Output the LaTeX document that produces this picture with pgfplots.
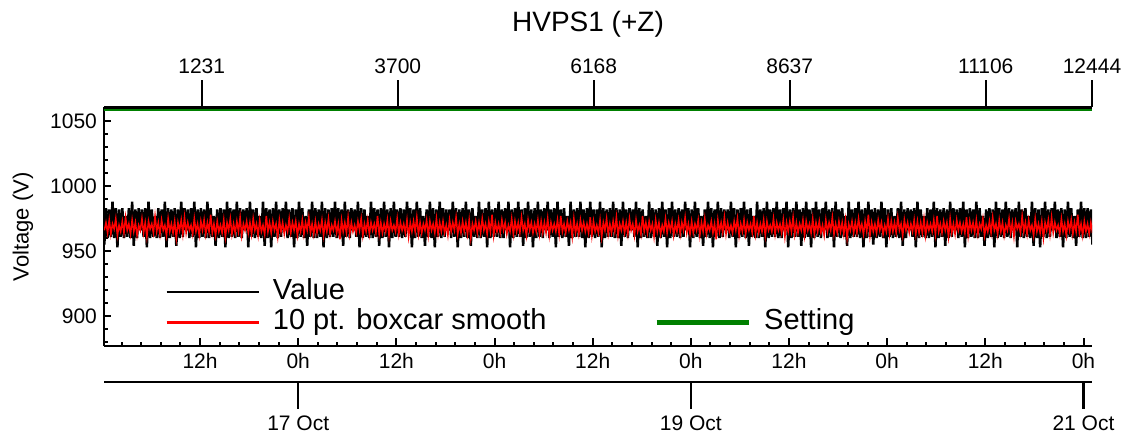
\documentclass[border=0pt]{standalone}
\usepackage{fontspec}
\setmainfont{Liberation Sans}
\usepackage{graphicx}
\usepackage{pgfplots}
\usepackage{pgfplotstable}
\pgfplotsset{compat=1.18}
\definecolor{setgreen}{RGB}{0,128,0}

% hours since 16 Oct 0h, raw value (v) and 10 pt boxcar smooth (s)
\pgfplotstableread[row sep=\\]{
x v s\\
0.3 955 966\\ 0.5 983 972\\ 0.7 960 964\\ 0.9 982 974\\ 1.1 961 963\\ 1.3 988 971\\ 1.5 960 967\\ 1.7 983 975\\ 1.9 953 962\\ 2.1 982 970\\
2.3 961 965\\ 2.5 983 973\\ 2.7 960 964\\ 2.9 977 976\\ 3.1 961 966\\ 3.3 983 971\\ 3.5 960 963\\ 3.7 988 974\\ 3.9 954 965\\ 4.1 982 972\\
4.3 960 962\\ 4.5 983 970\\ 4.7 966 966\\ 4.9 982 975\\ 5.1 961 964\\ 5.3 983 972\\ 5.5 953 961\\ 5.7 988 973\\ 5.9 960 967\\ 6.1 982 971\\
6.3 961 964\\ 6.5 977 977\\ 6.7 960 965\\ 6.9 983 972\\ 7.1 960 963\\ 7.3 982 974\\ 7.5 961 966\\ 7.7 988 970\\ 7.9 953 962\\ 8.1 983 975\\
8.3 960 965\\ 8.5 982 971\\ 8.7 961 964\\ 8.9 983 973\\ 9.1 954 960\\ 9.3 982 972\\ 9.5 960 966\\ 9.7 988 974\\ 9.9 961 963\\ 10.1 983 976\\
10.3 966 964\\ 10.5 982 972\\ 10.7 960 966\\ 10.9 983 970\\ 11.1 961 963\\ 11.3 988 975\\ 11.5 953 965\\ 11.7 982 971\\ 11.9 960 962\\ 12.1 983 973\\
12.3 961 966\\ 12.5 982 974\\ 12.7 960 963\\ 12.9 988 972\\ 13.1 960 965\\ 13.3 983 978\\ 13.5 961 964\\ 13.7 977 971\\ 13.9 954 962\\ 14.1 982 973\\
14.3 960 965\\ 14.5 983 970\\ 14.7 961 964\\ 14.9 982 974\\ 15.1 953 961\\ 15.3 988 972\\ 15.5 960 966\\ 15.7 983 975\\ 15.9 961 963\\ 16.1 982 971\\
16.3 960 964\\ 16.5 988 973\\ 16.7 961 965\\ 16.9 983 976\\ 17.1 960 962\\ 17.3 982 971\\ 17.5 966 966\\ 17.7 983 973\\ 17.9 953 964\\ 18.1 988 972\\
18.3 961 963\\ 18.5 982 975\\ 18.7 960 966\\ 18.9 983 971\\ 19.1 961 962\\ 19.3 977 974\\ 19.5 960 965\\ 19.7 988 970\\ 19.9 954 963\\ 20.1 983 977\\
20.3 960 965\\ 20.5 982 972\\ 20.7 953 964\\ 20.9 983 973\\ 21.1 961 966\\ 21.3 988 971\\ 21.5 960 961\\ 21.7 982 974\\ 21.9 961 965\\ 22.1 983 972\\
22.3 966 963\\ 22.5 988 970\\ 22.7 960 965\\ 22.9 982 975\\ 23.1 961 964\\ 23.3 983 972\\ 23.5 953 966\\ 23.7 982 973\\ 23.9 960 962\\ 24.1 988 971\\
24.3 961 965\\ 24.5 983 974\\ 24.7 960 963\\ 24.9 977 972\\ 25.1 954 966\\ 25.3 982 976\\ 25.5 961 964\\ 25.7 988 971\\ 25.9 960 963\\ 26.1 983 973\\
26.3 960 964\\ 26.5 982 971\\ 26.7 961 966\\ 26.9 988 974\\ 27.1 953 962\\ 27.3 983 972\\ 27.5 960 965\\ 27.7 982 975\\ 27.9 961 963\\ 28.1 983 970\\
28.3 961 966\\ 28.5 988 973\\ 28.7 960 964\\ 28.9 983 971\\ 29.1 960 959\\ 29.3 982 974\\ 29.5 954 965\\ 29.7 988 972\\ 29.9 961 964\\ 30.1 982 976\\
30.3 960 963\\ 30.5 983 972\\ 30.7 966 965\\ 30.9 982 970\\ 31.1 961 964\\ 31.3 988 973\\ 31.5 953 966\\ 31.7 983 975\\ 31.9 960 962\\ 32.1 982 971\\
32.3 961 965\\ 32.5 977 974\\ 32.7 960 963\\ 32.9 988 972\\ 33.1 960 966\\ 33.3 983 971\\ 33.5 961 964\\ 33.7 982 977\\ 33.9 954 963\\ 34.1 983 972\\
34.3 960 964\\ 34.5 988 971\\ 34.7 961 965\\ 34.9 982 974\\ 35.1 953 962\\ 35.3 983 973\\ 35.5 960 966\\ 35.7 988 970\\ 35.9 961 965\\ 36.1 982 975\\
36.3 961 963\\ 36.5 983 972\\ 36.7 960 966\\ 36.9 982 971\\ 37.1 961 964\\ 37.3 988 974\\ 37.5 966 961\\ 37.7 983 972\\ 37.9 953 965\\ 38.1 982 973\\
38.3 960 965\\ 38.5 988 976\\ 38.7 961 963\\ 38.9 983 972\\ 39.1 960 964\\ 39.3 977 971\\ 39.5 954 966\\ 39.7 982 974\\ 39.9 961 962\\ 40.1 988 973\\
40.3 960 966\\ 40.5 983 971\\ 40.7 953 964\\ 40.9 982 975\\ 41.1 961 963\\ 41.3 988 972\\ 41.5 960 965\\ 41.7 983 973\\ 41.9 961 964\\ 42.1 982 970\\
42.3 966 962\\ 42.5 982 974\\ 42.7 960 965\\ 42.9 988 972\\ 43.1 961 966\\ 43.3 983 976\\ 43.5 953 963\\ 43.7 982 971\\ 43.9 960 964\\ 44.1 983 973\\
44.3 961 965\\ 44.5 988 972\\ 44.7 960 963\\ 44.9 982 974\\ 45.1 954 960\\ 45.3 983 971\\ 45.5 961 966\\ 45.7 977 973\\ 45.9 960 964\\ 46.1 988 972\\
46.3 960 964\\ 46.5 982 975\\ 46.7 961 966\\ 46.9 983 971\\ 47.1 953 963\\ 47.3 988 973\\ 47.5 960 965\\ 47.7 982 978\\ 47.9 961 962\\ 48.1 983 972\\
48.3 961 965\\ 48.5 988 971\\ 48.7 960 964\\ 48.9 982 974\\ 49.1 960 966\\ 49.3 983 972\\ 49.5 966 963\\ 49.7 988 970\\ 49.9 953 965\\ 50.1 982 975\\
50.3 960 963\\ 50.5 983 973\\ 50.7 961 965\\ 50.9 988 972\\ 51.1 961 964\\ 51.3 982 976\\ 51.5 954 966\\ 51.7 983 971\\ 51.9 960 962\\ 52.1 988 974\\
52.3 961 966\\ 52.5 982 972\\ 52.7 953 964\\ 52.9 983 971\\ 53.1 960 965\\ 53.3 988 974\\ 53.5 961 963\\ 53.7 982 973\\ 53.9 960 964\\ 54.1 983 972\\
54.3 966 964\\ 54.5 988 975\\ 54.7 960 962\\ 54.9 982 972\\ 55.1 961 966\\ 55.3 983 971\\ 55.5 953 965\\ 55.7 988 974\\ 55.9 961 963\\ 56.1 982 977\\
56.3 960 965\\ 56.5 983 971\\ 56.7 961 964\\ 56.9 977 973\\ 57.1 954 966\\ 57.3 988 972\\ 57.5 960 961\\ 57.7 982 975\\ 57.9 961 964\\ 58.1 983 971\\
58.3 961 963\\ 58.5 988 974\\ 58.7 960 966\\ 58.9 982 972\\ 59.1 953 965\\ 59.3 983 971\\ 59.5 960 964\\ 59.7 988 976\\ 59.9 961 962\\ 60.1 982 973\\
60.3 960 965\\ 60.5 982 970\\ 60.7 961 964\\ 60.9 988 974\\ 61.1 953 961\\ 61.3 983 972\\ 61.5 960 966\\ 61.7 982 975\\ 61.9 961 963\\ 62.1 983 971\\
62.3 961 964\\ 62.5 988 973\\ 62.7 960 965\\ 62.9 983 976\\ 63.1 960 962\\ 63.3 982 971\\ 63.5 954 966\\ 63.7 988 973\\ 63.9 961 964\\ 64.1 982 972\\
64.3 960 963\\ 64.5 983 975\\ 64.7 966 966\\ 64.9 982 971\\ 65.1 961 962\\ 65.3 988 974\\ 65.5 953 965\\ 65.7 983 970\\ 65.9 960 963\\ 66.1 982 977\\
66.3 961 965\\ 66.5 977 972\\ 66.7 960 964\\ 66.9 988 973\\ 67.1 960 966\\ 67.3 983 971\\ 67.5 961 961\\ 67.7 982 974\\ 67.9 954 965\\ 68.1 983 972\\
68.3 960 963\\ 68.5 988 970\\ 68.7 961 965\\ 68.9 982 975\\ 69.1 953 964\\ 69.3 983 972\\ 69.5 960 966\\ 69.7 988 973\\ 69.9 961 962\\ 70.1 982 971\\
70.3 961 965\\ 70.5 983 974\\ 70.7 960 963\\ 70.9 982 972\\ 71.1 961 966\\ 71.3 988 976\\ 71.5 966 964\\ 71.7 983 971\\ 71.9 953 963\\ 72.1 982 973\\
72.3 960 964\\ 72.5 988 971\\ 72.7 961 966\\ 72.9 983 974\\ 73.1 960 962\\ 73.3 977 972\\ 73.5 954 965\\ 73.7 982 975\\ 73.9 961 963\\ 74.1 988 970\\
74.3 960 966\\ 74.5 983 973\\ 74.7 953 964\\ 74.9 982 971\\ 75.1 961 959\\ 75.3 988 974\\ 75.5 960 965\\ 75.7 983 972\\ 75.9 961 964\\ 76.1 982 976\\
76.3 966 963\\ 76.5 982 972\\ 76.7 960 965\\ 76.9 988 970\\ 77.1 961 964\\ 77.3 983 973\\ 77.5 953 966\\ 77.7 982 975\\ 77.9 960 962\\ 78.1 983 971\\
78.3 961 965\\ 78.5 988 974\\ 78.7 960 963\\ 78.9 982 972\\ 79.1 954 966\\ 79.3 983 971\\ 79.5 961 964\\ 79.7 977 977\\ 79.9 960 963\\ 80.1 988 972\\
80.3 960 964\\ 80.5 982 971\\ 80.7 961 965\\ 80.9 983 974\\ 81.1 953 962\\ 81.3 988 973\\ 81.5 960 966\\ 81.7 982 970\\ 81.9 961 965\\ 82.1 983 975\\
82.3 961 963\\ 82.5 988 972\\ 82.7 960 966\\ 82.9 982 971\\ 83.1 960 964\\ 83.3 983 974\\ 83.5 966 961\\ 83.7 988 972\\ 83.9 953 965\\ 84.1 982 973\\
84.3 960 965\\ 84.5 983 976\\ 84.7 961 963\\ 84.9 988 972\\ 85.1 961 964\\ 85.3 982 971\\ 85.5 954 966\\ 85.7 983 974\\ 85.9 960 962\\ 86.1 988 973\\
86.3 961 966\\ 86.5 982 971\\ 86.7 953 964\\ 86.9 983 975\\ 87.1 960 963\\ 87.3 988 972\\ 87.5 961 965\\ 87.7 982 973\\ 87.9 960 964\\ 88.1 983 970\\
88.3 966 962\\ 88.5 988 974\\ 88.7 960 965\\ 88.9 982 972\\ 89.1 961 966\\ 89.3 983 976\\ 89.5 953 963\\ 89.7 988 971\\ 89.9 961 964\\ 90.1 982 973\\
90.3 960 965\\ 90.5 983 972\\ 90.7 961 963\\ 90.9 977 974\\ 91.1 954 960\\ 91.3 988 971\\ 91.5 960 966\\ 91.7 982 973\\ 91.9 961 964\\ 92.1 983 972\\
92.3 961 964\\ 92.5 988 975\\ 92.7 960 966\\ 92.9 982 971\\ 93.1 953 963\\ 93.3 983 973\\ 93.5 960 965\\ 93.7 988 978\\ 93.9 961 962\\ 94.1 982 972\\
94.3 955 965\\ 94.5 983 971\\ 94.7 960 964\\ 94.9 982 974\\ 95.1 961 966\\ 95.3 988 972\\ 95.5 960 963\\ 95.7 983 970\\ 95.9 953 965\\ 96.1 982 975\\
96.3 961 963\\ 96.5 983 973\\ 96.7 960 965\\ 96.9 977 972\\ 97.1 961 964\\ 97.3 983 976\\ 97.5 960 966\\ 97.7 988 971\\ 97.9 954 962\\ 98.1 982 974\\
98.3 960 966\\ 98.5 983 972\\ 98.7 966 964\\ 98.9 982 971\\ 99.1 961 965\\ 99.3 983 974\\ 99.5 953 963\\ 99.7 988 973\\ 99.9 960 964\\ 100.1 982 972\\
100.3 961 964\\ 100.5 977 975\\ 100.7 960 962\\ 100.9 983 972\\ 101.1 960 966\\ 101.3 982 971\\ 101.5 961 965\\ 101.7 988 974\\ 101.9 953 963\\ 102.1 983 977\\
102.3 960 965\\ 102.5 982 971\\ 102.7 961 964\\ 102.9 983 973\\ 103.1 954 966\\ 103.3 982 972\\ 103.5 960 961\\ 103.7 988 975\\ 103.9 961 964\\ 104.1 983 971\\
104.3 966 963\\ 104.5 982 974\\ 104.7 960 966\\ 104.9 983 972\\ 105.1 961 965\\ 105.3 988 971\\ 105.5 953 964\\ 105.7 982 976\\ 105.9 960 962\\ 106.1 983 973\\
106.3 961 966\\ 106.5 982 972\\ 106.7 960 964\\ 106.9 988 974\\ 107.1 960 963\\ 107.3 983 971\\ 107.5 961 967\\ 107.7 977 975\\ 107.9 954 962\\ 108.1 982 970\\
108.3 960 965\\ 108.5 983 973\\ 108.7 961 964\\ 108.9 982 976\\ 109.1 953 966\\ 109.3 988 971\\ 109.5 960 963\\ 109.7 983 974\\ 109.9 961 965\\ 110.1 982 972\\
110.3 960 962\\ 110.5 988 970\\ 110.7 961 966\\ 110.9 983 975\\ 111.1 960 964\\ 111.3 982 972\\ 111.5 966 961\\ 111.7 983 973\\ 111.9 953 967\\ 112.1 988 971\\
112.3 961 964\\ 112.5 982 977\\ 112.7 960 965\\ 112.9 983 972\\ 113.1 961 963\\ 113.3 977 974\\ 113.5 960 966\\ 113.7 988 970\\ 113.9 954 962\\ 114.1 983 975\\
114.3 960 965\\ 114.5 982 971\\ 114.7 953 964\\ 114.9 983 973\\ 115.1 961 960\\ 115.3 988 972\\ 115.5 960 966\\ 115.7 982 974\\ 115.9 961 963\\ 116.1 983 976\\
116.3 966 964\\ 116.5 988 972\\ 116.7 960 966\\ 116.9 982 970\\ 117.1 961 963\\ 117.3 983 975\\ 117.5 953 965\\ 117.7 982 971\\ 117.9 960 962\\ 118.1 988 973\\
118.3 961 966\\ 118.5 983 974\\ 118.7 960 963\\ 118.9 977 972\\ 119.1 954 965\\ 119.3 982 978\\ 119.5 961 964\\ 119.7 988 971\\ 119.9 960 962\\ 120.1 983 973\\
120.3 960 965\\ 120.5 983 971\\ 120.7 961 963\\ 120.9 982 972\\ 121.1 955 964\\
}\hvps

\begin{document}
\begin{tikzpicture}
\useasboundingbox (0,0) rectangle (565pt,221.5pt);

% date axis underneath
\begin{axis}[at={(52pt,30.5pt)}, anchor=south west, scale only axis,
  width=494pt, height=10pt,
  xmin=0.26, xmax=121.04, ymin=0, ymax=1,
  axis x line*=bottom, hide y axis,
  axis line style={-, line width=1.4pt},
  tick align=outside, major tick length=13.5pt,
  every tick/.style={black, line width=1.1pt},
  xtick={24,72,120}, xticklabels={17 Oct,19 Oct,21 Oct},
  ticklabel style={font=\fontsize{10.5}{12}\selectfont}]
\addplot[draw=none] coordinates {(0.26,0) (121.04,1)};
\end{axis}

% main axis
\begin{axis}[at={(52pt,48.5pt)}, anchor=south west, scale only axis,
  width=494pt, height=119.25pt,
  xmin=0.26, xmax=121.04, ymin=877, ymax=1060.5,
  axis x line*=bottom, axis y line*=left,
  axis line style={-, line width=1.4pt},
  tick align=inside,
  major tick length=3.75pt, minor tick length=1.9pt,
  every tick/.style={black, line width=1pt},
  xtick={12,24,...,120},
  xticklabels={12h,0h,12h,0h,12h,0h,12h,0h,12h,0h},
  minor xtick={0,2.4,...,120},
  ytick={900,950,1000,1050}, yticklabels={900,950,1000,1050},
  minor ytick={880,890,...,1050},
  ticklabel style={font=\fontsize{10.5}{12}\selectfont},
  ylabel={Voltage (V)},
  ylabel style={font=\fontsize{11}{13}\selectfont, at={(axis description cs:-0.082,0.5)}, anchor=center},
  legend columns=2,
  legend cell align=left,
  legend image code/.code={\draw[#1] (0pt,0pt) -- (46pt,0pt);},
  legend style={at={(rel axis cs:0.0617,0.042)}, anchor=south west,
    draw=none, fill=none, inner sep=0pt, column sep=6.5pt, row sep=2.2pt,
    font=\fontsize{14.5}{16}\selectfont,
    nodes={inner sep=0pt, text height=10pt, text depth=3pt}}]
\addlegendimage{black, line width=1.3pt}
\addlegendentry{Value}
\addlegendimage{empty legend}
\addlegendentry{}
\addlegendimage{red, line width=1.3pt}
\addlegendentry{\makebox[184pt][l]{10 pt. boxcar smooth}}
\addlegendimage{setgreen, line width=2.6pt}
\addlegendentry{Setting}

\addplot[setgreen, line width=2pt, forget plot] coordinates {(0.26,1059.6) (121.04,1059.6)};
\addplot[black, line width=1.25pt, forget plot] table[x=x, y=v] {\hvps};
\addplot[red, line width=0.75pt, forget plot] table[x=x, y=s] {\hvps};
\end{axis}

% sample-index axis on top
\begin{axis}[at={(52pt,48.5pt)}, anchor=south west, scale only axis,
  width=494pt, height=119.25pt,
  xmin=0, xmax=12444, ymin=0, ymax=1,
  axis x line*=top, hide y axis, scaled x ticks=false,
  axis line style={-, line width=1.4pt},
  tick align=outside, major tick length=13.5pt,
  every tick/.style={black, line width=1.1pt},
  xtick={1231,3700,6168,8637,11106,12444},
  xticklabels={1231,3700,6168,8637,11106,12444},
  ticklabel style={font=\fontsize{10.5}{12}\selectfont}]
\addplot[draw=none] coordinates {(0,0) (12444,1)};
\end{axis}

\node[font=\fontsize{14}{16}\selectfont, anchor=base] at (294pt,205.7pt) {HVPS1 (+Z)};
\end{tikzpicture}
\end{document}
